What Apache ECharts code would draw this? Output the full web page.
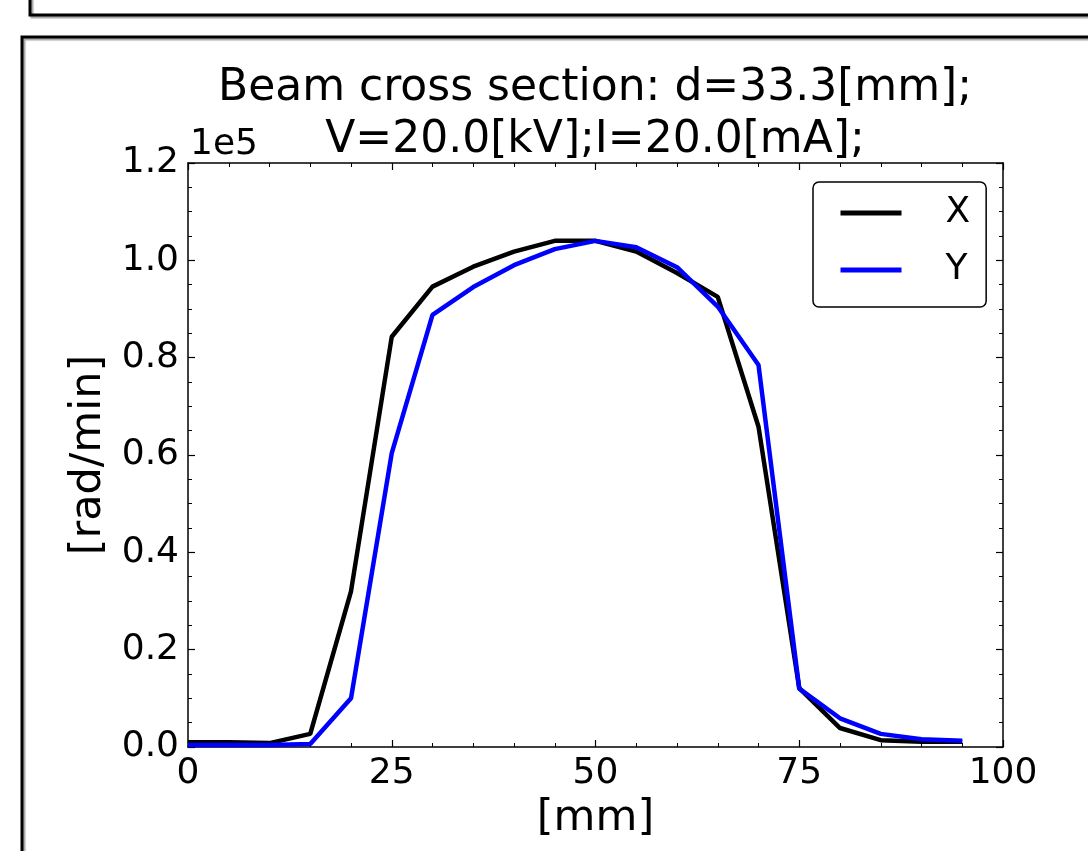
<!DOCTYPE html>
<html>
<head>
<meta charset="utf-8">
<script src="https://cdn.jsdelivr.net/npm/echarts@6/dist/echarts.min.js"></script>
<style>
html,body{margin:0;padding:0;background:#fff;}
#c{width:1088px;height:851px;}
</style>
</head>
<body>
<div id="c"></div>
<script>
// positions along the beam [mm]
const positions = [0,5,10,15,20,25,30,35,40,45,50,55,60,65,70,75,80,85,90,95];
// dose rate, in units of 1e5 [rad/min]
const profileX = [0.010,0.010,0.008,0.027,0.320,0.843,0.946,0.987,1.018,1.040,1.040,1.018,0.974,0.925,0.658,0.121,0.039,0.014,0.011,0.011];
const profileY = [0.004,0.004,0.004,0.006,0.100,0.604,0.888,0.945,0.990,1.023,1.040,1.027,0.986,0.905,0.785,0.120,0.059,0.027,0.016,0.013];
const seriesNames = ['X','Y'];
const seriesColors = ['#000000','#0000ff'];
const titleText = 'Beam cross section: d=33.3[mm];\nV=20.0[kV];I=20.0[mA];';
const xLabel = '[mm]';
const yLabel = '[rad/min]';
const yScaleText = '1e5';

const font = 'DejaVu Sans';
const chart = echarts.init(document.getElementById('c'));

const axisCommon = {
  axisLine: {show: true, onZero: false, lineStyle: {color: '#000', width: 1.5}},
  axisTick: {show: true, inside: true, length: 7, lineStyle: {color: '#000', width: 1.2}},
  minorTick: {show: true, length: 4, lineStyle: {color: '#000', width: 1}},
  splitLine: {show: false},
  minorSplitLine: {show: false}
};

const xBase = {type: 'value', min: 0, max: 100, interval: 25};
const yBase = {type: 'value', min: 0, max: 1.2, interval: 0.2};

chart.setOption({
  animation: false,
  backgroundColor: '#fff',
  title: {
    text: titleText,
    left: 595,
    top: 63,
    padding: 0,
    textAlign: 'center',
    textStyle: {fontFamily: font, fontSize: 44, lineHeight: 52, fontWeight: 'normal', color: '#000'}
  },
  grid: {left: 188, top: 163, width: 815, height: 584},
  legend: {
    data: seriesNames,
    orient: 'vertical',
    left: 813,
    top: 182,
    padding: [13, 16, 19, 25],
    itemGap: 21,
    itemWidth: 61,
    itemHeight: 36,
    backgroundColor: '#fff',
    borderColor: '#000',
    borderWidth: 1.5,
    borderRadius: 6,
    itemStyle: {opacity: 0},
    lineStyle: {width: 5},
    textStyle: {fontFamily: font, fontSize: 36, color: '#000', padding: [0, 0, 0, 39]}
  },
  xAxis: [
    Object.assign({}, xBase, axisCommon, {
      position: 'bottom',
      minorTick: Object.assign({}, axisCommon.minorTick, {splitNumber: 5}),
      axisLabel: {fontFamily: font, fontSize: 36, color: '#000', margin: 9},
      name: xLabel,
      nameLocation: 'middle',
      nameGap: 46,
      nameTextStyle: {fontFamily: font, fontSize: 43, color: '#000'}
    }),
    Object.assign({}, xBase, axisCommon, {
      position: 'top',
      minorTick: Object.assign({}, axisCommon.minorTick, {splitNumber: 5}),
      axisLabel: {show: false}
    })
  ],
  yAxis: [
    Object.assign({}, yBase, axisCommon, {
      position: 'left',
      minorTick: Object.assign({}, axisCommon.minorTick, {splitNumber: 4}),
      axisLabel: {fontFamily: font, fontSize: 36, color: '#000', margin: 9,
        formatter: v => v.toFixed(1)},
      name: yLabel,
      nameLocation: 'middle',
      nameGap: 78,
      nameTextStyle: {fontFamily: font, fontSize: 43, color: '#000'}
    }),
    Object.assign({}, yBase, axisCommon, {
      position: 'right',
      minorTick: Object.assign({}, axisCommon.minorTick, {splitNumber: 4}),
      axisLabel: {show: false}
    })
  ],
  graphic: [
    {type: 'rect', z: 0, silent: true,
      shape: {x: 30, y: -20, width: 1120, height: 35},
      style: {fill: 'none', stroke: '#000', lineWidth: 3, shadowColor: 'rgba(0,0,0,0.35)', shadowOffsetX: 2, shadowOffsetY: 2, shadowBlur: 1}},
    {type: 'rect', z: 0, silent: true,
      shape: {x: 22, y: 37, width: 1120, height: 900},
      style: {fill: 'none', stroke: '#000', lineWidth: 3, shadowColor: 'rgba(0,0,0,0.35)', shadowOffsetX: 2, shadowOffsetY: 2, shadowBlur: 1}},
    {type: 'text', z: 10, silent: true,
      style: {text: yScaleText, x: 190, y: 145, textVerticalAlign: 'middle', fontFamily: font, fontSize: 36, fill: '#000'}}
  ],
  series: seriesNames.map((name, i) => ({
    name: name,
    type: 'line',
    xAxisIndex: 0,
    yAxisIndex: 0,
    symbol: 'none',
    data: positions.map((p, k) => [p, (i === 0 ? profileX : profileY)[k]]),
    lineStyle: {color: seriesColors[i], width: 4.5},
    itemStyle: {color: seriesColors[i]},
    z: 2 + i
  }))
});
</script>
</body>
</html>
